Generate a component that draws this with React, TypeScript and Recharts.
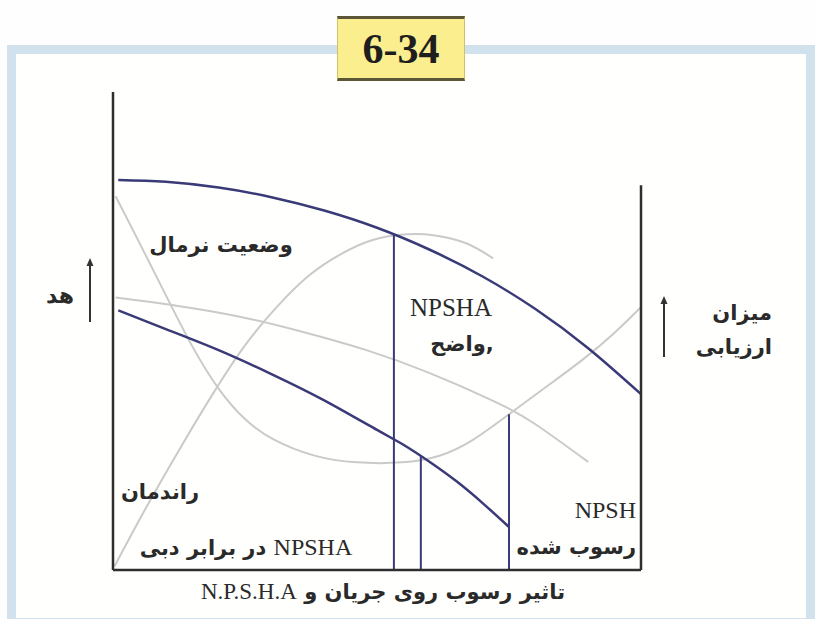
import { LineChart, Line, XAxis, YAxis, ReferenceLine } from "recharts";

// curves, in [flow, value] pairs on a 0..100 grid
const HEAD_NORMAL: [number, number][] = [[1, 81.6], [10, 81.2], [20, 80], [30, 78], [40, 75.2], [50, 71.6], [60, 67], [70, 61.4], [80, 54.6], [90, 46.4], [100, 36.8]];
const HEAD_FOULED: [number, number][] = [[1, 54.3], [10, 50.4], [20, 46], [30, 41], [40, 35.5], [50, 29.3], [55, 26.2], [60, 22.6], [65, 18.6], [70, 14], [75, 9]];
const NPSH_CURVE: [number, number][] = [[0.5, 78.2], [5, 68.5], [10, 57.5], [15, 46.5], [20, 37.5], [25, 31.2], [30, 27.2], [38, 23.6], [46, 22.3], [55, 22.3], [62, 23.6], [68, 26.8], [75, 32.6], [82, 38.3], [89, 43.9], [95, 49.5], [100, 55]];
const EFFICIENCY: [number, number][] = [[0.3, 0.8], [6, 12.5], [13, 26], [19, 37], [25, 47], [31, 55], [37, 61.5], [43, 66], [49, 69], [55, 70.2], [61, 70], [67, 68.3], [72, 65.2]];
const NPSHA_LINE: [number, number][] = [[0.5, 57], [12, 55.3], [24, 53], [36, 49.8], [48, 46], [60, 41.2], [72, 35.4], [80, 30.5], [90, 22.6]];
// vertical drop lines: [flow, top]
const DROPS: [number, number][] = [[53.2, 70.1], [58.3, 23.8], [75, 32.6]];
const RIGHT_AXIS_TOP = 80.5;

const toPts = (arr: [number, number][]) => arr.map(([x, y]) => ({ x, y }));

const NAVY = "#3a3a78";
const GREY = "#cacaca";
const AXIS = "#2e2e2e";
const FA = "'DejaVu Sans', sans-serif";
const SERIF = "'Liberation Serif', 'DejaVu Serif', serif";

const Txt = ({ x, y, children, size = 21, font = FA, dir = "rtl", anchor = "center", weight = 700 }: any) => (
  <div
    dir={dir}
    style={{
      position: "absolute", left: x, top: y, whiteSpace: "nowrap", fontFamily: font, fontSize: size, fontWeight: weight, color: "#2a2a2a", lineHeight: 1,
      transform: anchor === "center" ? "translate(-50%, -50%)" : anchor === "right" ? "translate(-100%, -50%)" : "translate(0, -50%)",
    }}
  >
    {children}
  </div>
);

const Arrow = ({ x, top, bottom }: { x: number; top: number; bottom: number }) => (
  <svg style={{ position: "absolute", left: x - 6, top: top - 2, overflow: "visible" }} width={12} height={bottom - top + 4}>
    <line x1={6} y1={4} x2={6} y2={bottom - top + 2} stroke="#333" strokeWidth={2} />
    <polygon points="6,0 2.5,8 9.5,8" fill="#333" />
  </svg>
);

export default function App() {
  return (
    <div style={{ position: "absolute", left: 0, top: 0, width: 816, height: 619, background: "#fefefe", overflow: "hidden" }}>
      {/* light blue frame */}
      <div style={{ position: "absolute", left: 7, top: 45, width: 808, height: 582, boxSizing: "border-box", border: "9px solid #d2e2ed", background: "#fffffd" }} />

      {/* title badge */}
      <div style={{
        position: "absolute", left: 337, top: 16, width: 128, height: 65, boxSizing: "border-box", background: "#fbee8e",
        borderTop: "3px solid #5b5636", borderBottom: "3px solid #5b5636", borderLeft: "1px solid #cfc06a", borderRight: "1px solid #cfc06a",
        display: "flex", alignItems: "center", justifyContent: "center", fontFamily: SERIF, fontWeight: 700, fontSize: 42, color: "#1e1e1e",
      }}>
        6-34
      </div>

      <div style={{ position: "absolute", left: 0, top: 0 }}>
        <LineChart width={816} height={619} margin={{ top: 92, left: 113, right: 175, bottom: 49 }}>
          <XAxis type="number" dataKey="x" domain={[0, 100]} hide />
          <YAxis type="number" domain={[0, 100]} hide />
          <Line data={toPts(NPSH_CURVE)} dataKey="y" type="basis" stroke={GREY} strokeWidth={2} dot={false} isAnimationActive={false} />
          <Line data={toPts(EFFICIENCY)} dataKey="y" type="natural" stroke={GREY} strokeWidth={2} dot={false} isAnimationActive={false} />
          <Line data={toPts(NPSHA_LINE)} dataKey="y" type="natural" stroke={GREY} strokeWidth={2} dot={false} isAnimationActive={false} />
          <Line data={toPts(HEAD_NORMAL)} dataKey="y" type="natural" stroke={NAVY} strokeWidth={2.5} dot={false} isAnimationActive={false} />
          <Line data={toPts(HEAD_FOULED)} dataKey="y" type="natural" stroke={NAVY} strokeWidth={2.5} dot={false} isAnimationActive={false} />
          {DROPS.map(([x, top]) => (
            <ReferenceLine key={x} segment={[{ x, y: 0 }, { x, y: top }]} stroke={NAVY} strokeWidth={2} />
          ))}
          <ReferenceLine segment={[{ x: 0, y: 0 }, { x: 0, y: 100 }]} stroke={AXIS} strokeWidth={2.5} />
          <ReferenceLine segment={[{ x: 0, y: 0 }, { x: 100, y: 0 }]} stroke={AXIS} strokeWidth={2.5} />
          <ReferenceLine segment={[{ x: 100, y: 0 }, { x: 100, y: RIGHT_AXIS_TOP }]} stroke={AXIS} strokeWidth={2.5} />
        </LineChart>
      </div>

      {/* labels */}
      <Txt x={221} y={245}>وضعیت نرمال</Txt>
      <Txt x={451} y={307} font={SERIF} size={25} dir="ltr" weight={400}>NPSHA</Txt>
      <Txt x={462} y={344}>,واضح</Txt>
      <Txt x={160} y={492}>راندمان</Txt>
      <Txt x={246} y={547}>
        <span style={{ fontFamily: SERIF, fontSize: 24, fontWeight: 400 }}>NPSHA</span> در برابر دبی
      </Txt>
      <Txt x={636} y={510} font={SERIF} size={24} dir="ltr" anchor="right" weight={400}>NPSH</Txt>
      <Txt x={636} y={547} anchor="right">رسوب شده</Txt>
      <Txt x={383} y={591}>
        تاثیر رسوب روی جریان و <span style={{ fontFamily: SERIF, fontSize: 23, fontWeight: 400 }}>N.P.S.H.A</span>
      </Txt>
      <Txt x={60} y={296} size={22}>هد</Txt>
      <Arrow x={90} top={260} bottom={322} />
      <Arrow x={664} top={298} bottom={357} />
      <Txt x={772} y={313} anchor="right">میزان</Txt>
      <Txt x={772} y={347} anchor="right">ارزیابی</Txt>
    </div>
  );
}
